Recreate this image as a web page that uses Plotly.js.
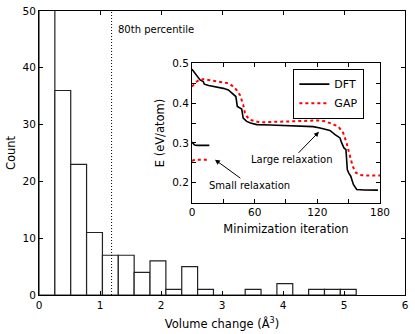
<!DOCTYPE html>
<html>
<head>
<meta charset="utf-8">
<script src="https://cdn.plot.ly/plotly-3.0.1.min.js"></script>
<style>html,body{margin:0;padding:0;background:#fff;}#chart{width:415px;height:334px;}</style>
</head>
<body>
<div id="chart"></div>
<script>
// Histogram of volume change (Å^3)
const binCenters = [0.13, 0.39, 0.65, 0.91, 1.17, 1.43, 1.69, 1.95, 2.21, 2.47, 2.73, 2.99, 3.25, 3.51, 3.77, 4.03, 4.29, 4.55, 4.81, 5.07];
const binCounts  = [58, 36, 23, 11, 7, 7, 4, 6, 1, 5, 1, 0, 0, 1, 0, 2, 0, 1, 1, 1];
const binWidth = 0.26;
const percentile80 = 1.19;

// Inset: energy vs minimization iteration
const dftLargeX = [0, 2, 4.5, 7.7, 10.8, 11.8, 16, 22, 30, 34.8, 38, 42, 43.4, 46, 47.6, 49, 52.4, 56, 62, 75, 90, 105, 116, 122.6, 128, 132, 137, 141.7, 143.3, 145.5, 147.4, 148.7, 150, 152, 154.5, 157.7, 165, 172, 178];
const dftLargeY = [0.485, 0.478, 0.471, 0.458, 0.454, 0.4475, 0.444, 0.4415, 0.437, 0.433, 0.425, 0.4165, 0.3915, 0.387, 0.385, 0.3625, 0.354, 0.350, 0.346, 0.345, 0.344, 0.343, 0.341, 0.3375, 0.335, 0.3315, 0.321, 0.3125, 0.300, 0.2875, 0.283, 0.233, 0.225, 0.2165, 0.196, 0.183, 0.182, 0.182, 0.1815];
const gapLargeX = [0, 2, 4.5, 7, 10.8, 18, 25, 30, 34.8, 39.6, 43, 46, 49, 50.7, 53, 55.5, 60, 65, 80, 100, 115, 121, 128, 132, 135.3, 140, 144.8, 148, 151.3, 153.9, 157, 160, 162.5, 170, 180];
const gapLargeY = [0.4415, 0.448, 0.454, 0.458, 0.46, 0.457, 0.454, 0.452, 0.45, 0.4415, 0.432, 0.42, 0.396, 0.375, 0.365, 0.358, 0.354, 0.3515, 0.353, 0.355, 0.356, 0.3565, 0.354, 0.35, 0.347, 0.3415, 0.325, 0.300, 0.2665, 0.2415, 0.225, 0.221, 0.219, 0.218, 0.218];
const dftSmallX = [0, 1, 2.5, 5, 10, 16.6];
const dftSmallY = [0.302, 0.299, 0.295, 0.294, 0.294, 0.294];
const gapSmallX = [0, 2, 5, 10, 16];
const gapSmallY = [0.255, 0.257, 0.258, 0.258, 0.258];

const FONT = 'DejaVu Sans, sans-serif';

const traces = [
  {type: 'bar', x: binCenters, y: binCounts, width: binWidth, xaxis: 'x', yaxis: 'y',
   marker: {color: 'white', line: {color: '#222', width: 1.2}}, showlegend: false, hoverinfo: 'skip'},
  {type: 'scatter', mode: 'lines', x: [percentile80, percentile80], y: [0, 50], xaxis: 'x', yaxis: 'y',
   line: {color: 'black', width: 1, dash: '1px,2px'}, showlegend: false},
  {type: 'scatter', mode: 'lines', name: 'DFT', x: dftLargeX, y: dftLargeY, xaxis: 'x2', yaxis: 'y2',
   line: {color: 'black', width: 1.6}},
  {type: 'scatter', mode: 'lines', name: 'GAP', x: gapLargeX, y: gapLargeY, xaxis: 'x2', yaxis: 'y2',
   line: {color: '#ff0000', width: 2, dash: '3px,3px'}},
  {type: 'scatter', mode: 'lines', x: dftSmallX, y: dftSmallY, xaxis: 'x2', yaxis: 'y2',
   line: {color: 'black', width: 1.6}, showlegend: false},
  {type: 'scatter', mode: 'lines', x: gapSmallX, y: gapSmallY, xaxis: 'x2', yaxis: 'y2',
   line: {color: '#ff0000', width: 2, dash: '3px,3px'}, showlegend: false}
];

const axisCommon = {
  showline: true, linecolor: 'black', linewidth: 1, mirror: 'ticks',
  ticks: 'inside', ticklen: 4, tickcolor: 'black', showgrid: false, zeroline: false,
  tickfont: {family: FONT, size: 10.5, color: 'black'}, automargin: false
};

const layout = {
  width: 415, height: 334,
  margin: {l: 39, r: 10, t: 11, b: 39},
  paper_bgcolor: 'white', plot_bgcolor: 'white',
  font: {family: FONT, color: 'black'},
  bargap: 0,
  xaxis: Object.assign({}, axisCommon, {range: [0, 6], dtick: 1, tick0: 0, domain: [0, 1], anchor: 'y',
    title: {text: 'Volume change (Å<sup>3</sup>)', font: {family: FONT, size: 11.5}, standoff: 10}}),
  yaxis: Object.assign({}, axisCommon, {range: [0, 50], dtick: 10, tick0: 0, domain: [0, 1], anchor: 'x',
    title: {text: 'Count', font: {family: FONT, size: 11.5}, standoff: 4}}),
  xaxis2: Object.assign({}, axisCommon, {range: [0, 180], dtick: 60, tick0: 0,
    minor: {dtick: 30, tick0: 0, ticks: 'inside', ticklen: 4, tickcolor: 'black', showgrid: false},
    domain: [0.418, 0.9317], anchor: 'y2',
    title: {text: 'Minimization iteration', font: {family: FONT, size: 11.5}, standoff: 7}}),
  yaxis2: Object.assign({}, axisCommon, {range: [0.15, 0.5], dtick: 0.1, tick0: 0, tickformat: '.1f',
    minor: {dtick: 0.05, tick0: 0, ticks: 'inside', ticklen: 4, tickcolor: 'black', showgrid: false},
    domain: [0.325, 0.816], anchor: 'x2',
    title: {text: 'E (eV/atom)', font: {family: FONT, size: 11.5}, standoff: 5}}),
  showlegend: true,
  legend: {x: 0.695, y: 0.797, xanchor: 'left', yanchor: 'top', bgcolor: 'white',
    bordercolor: 'black', borderwidth: 1, font: {family: FONT, size: 11}, itemwidth: 30,
    tracegroupgap: 0},
  annotations: [
    {text: '80th percentile', xref: 'x', yref: 'y', x: 1.26, y: 46.8, xanchor: 'left', yanchor: 'middle',
     showarrow: false, font: {family: FONT, size: 10}},
    {text: 'Large relaxation', xref: 'x2', yref: 'y2', x: 121.6, y: 0.328, axref: 'x2', ayref: 'y2', ax: 95.5, ay: 0.2575,
     showarrow: true, arrowhead: 2, arrowsize: 1, arrowwidth: 1, arrowcolor: 'black', font: {family: FONT, size: 10}},
    {text: 'Small relaxation', xref: 'x2', yref: 'y2', x: 22, y: 0.258, axref: 'x2', ayref: 'y2', ax: 55.5, ay: 0.194,
     showarrow: true, arrowhead: 2, arrowsize: 1, arrowwidth: 1, arrowcolor: 'black', font: {family: FONT, size: 10}}
  ]
};

Plotly.newPlot('chart', traces, layout, {displayModeBar: false, staticPlot: true});
</script>
</body>
</html>
